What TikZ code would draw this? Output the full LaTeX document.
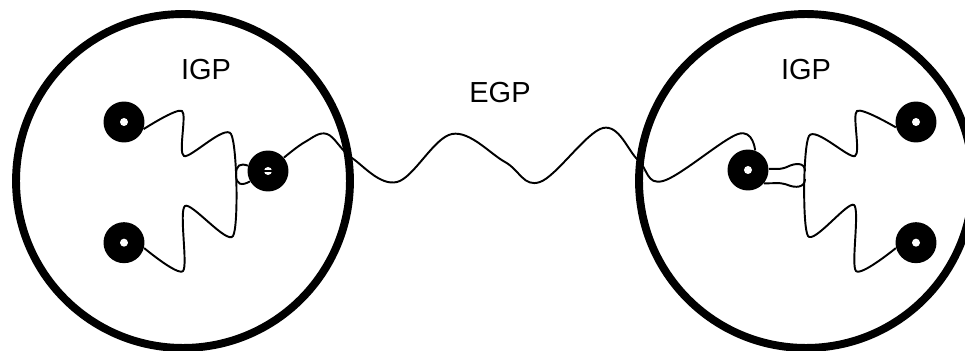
\documentclass[tikz,border=0pt]{standalone}
\usepackage{fontspec}
\setmainfont{Liberation Sans}
\usetikzlibrary{positioning}

\begin{document}
\begin{tikzpicture}[
    x=0.02cm, y=-0.02cm,
    asarea/.style={circle, draw=black, line width=4.5pt, inner sep=0pt,
                   minimum size=6.68cm},
    router/.style={circle, fill=black, inner sep=0pt, minimum size=8.2mm,
                   path picture={\fill[white] (path picture bounding box.center) circle (0.8mm);}},
    wire/.style={line width=1.1pt, rounded corners=3pt},
    curvywire/.style={line width=1.1pt},
    tag/.style={font=\fontsize{16.5}{20}\selectfont, inner sep=0pt}
]
    \useasboundingbox (0,0) rectangle (965,351);
    \clip (0,0) rectangle (965,351);

    % the two autonomous systems
    \node[asarea] (as1) at (183,181) {};
    \node[asarea] (as2) at (806,181) {};

    \node[tag] (igp1) at (206,70) {IGP};
    \node[tag] (igp2) at (806,70) {IGP};
    \node[tag] (egp) at (500,93) {EGP};

    % routers
    \node[router] (r1) at (124,122) {};
    \node[router, below=1.58cm of r1] (r2) {};
    \node[router] (r3) at (268,171) {};
    \node[router] (r4) at (748,170) {};
    \node[router] (r5) at (916,122) {};
    \node[router, below=1.58cm of r5] (r6) {};
    \draw[line width=0.8pt] ([xshift=-0.8mm]r3.center) -- ([xshift=0.8mm]r3.center);

    % interior links, left
    \draw[curvywire] plot[smooth, tension=0.45] coordinates {(r1.-20) (182,111)
        (184,156) (231,134) (233,236) (185,206) (183,271) (r2.-15)};
    \draw[curvywire] (r3.165) .. controls (240,163) and (236,165) .. (236,175)
        .. controls (236,185) and (242,186) .. (r3.210);

    % interior links, right
    \draw[curvywire] plot[smooth, tension=0.45] coordinates {(r5.195) (857,111)
        (855,156) (809,136) (808,236) (854,205) (856,271) (r6.195)};
    \draw[wire] (r4.3) -- (783,169) .. controls (795,163) and (805,162) .. (805,171);
    \draw[wire] (r4.-40) -- (783,183) .. controls (795,188) and (805,188) .. (805,179);

    % exterior link
    \draw[curvywire] plot[smooth, tension=0.6] coordinates {(r3.40) (305,142) (327,134)
        (352,158) (397,182) (452,134) (505,162) (540,182) (603,128) (638,160)
        (663,181) (738,134) (r4.70)};
\end{tikzpicture}
\end{document}
